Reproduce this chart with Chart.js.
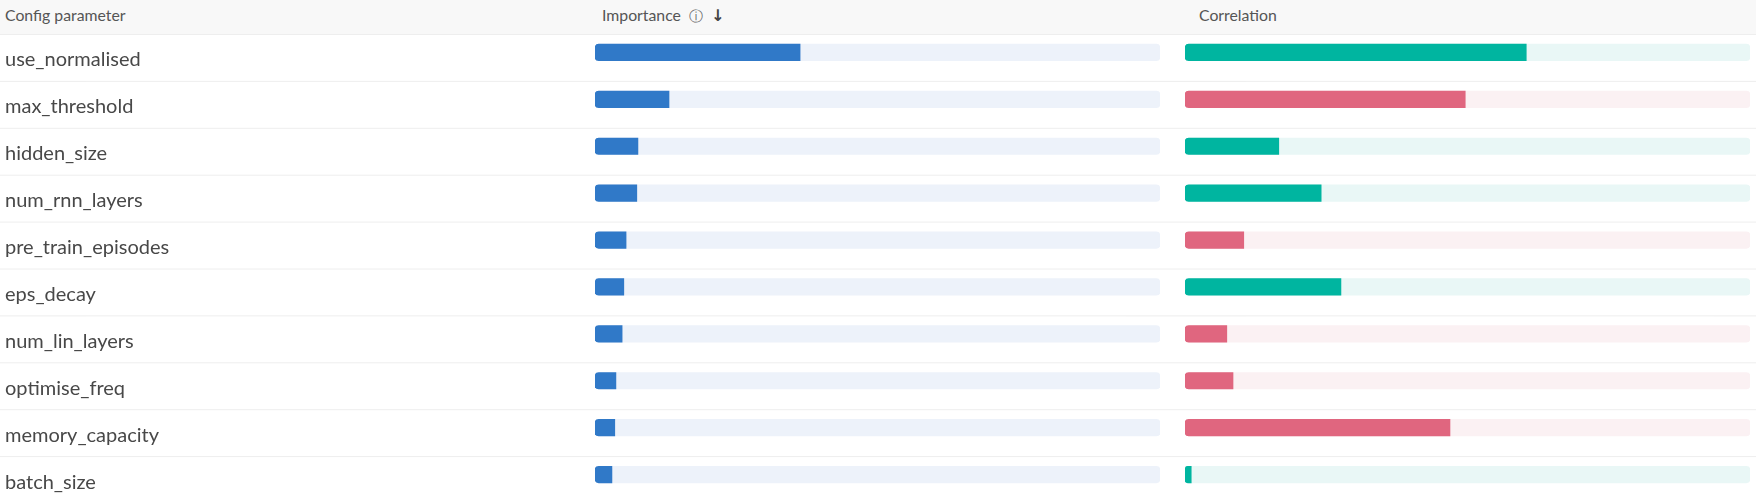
<!DOCTYPE html>
<html>
<head>
<meta charset="utf-8">
<script src="https://cdn.jsdelivr.net/npm/chart.js@4/dist/chart.umd.min.js"></script>
<style>
  html, body { margin: 0; padding: 0; background: #ffffff; }
  body { width: 1756px; height: 500px; overflow: hidden; position: relative; font-family: Lato, "Noto Sans", sans-serif; }
  #header { position: absolute; left: 0; top: 0; width: 1756px; height: 35px; background: #f8f8f8; }
  .h { position: absolute; top: 0; line-height: 30px; font-size: 15.8px; color: #555; white-space: nowrap; }
  .icon { font-family: "DejaVu Sans"; font-size: 14px; color: #666; }
  .arrow { font-family: "DejaVu Sans"; font-size: 16px; color: #444; font-weight: bold; }
  #c1 { position: absolute; left: 0; top: 29px; }
  #c2 { position: absolute; left: 1160px; top: 29px; }
</style>
</head>
<body>
<div id="header">
  <span class="h" style="left:5px">Config parameter</span>
  <span class="h" style="left:602px">Importance<span class="icon" style="margin-left:8px">ⓘ</span><span class="arrow" style="margin-left:8px">↓</span></span>
  <span class="h" style="left:1199px">Correlation</span>
</div>
<canvas id="c1" width="1160" height="469"></canvas>
<canvas id="c2" width="596" height="469"></canvas>
<script>
// ---- data ----
const categories = ['use_normalised', 'max_threshold', 'hidden_size', 'num_rnn_layers', 'pre_train_episodes',
                    'eps_decay', 'num_lin_layers', 'optimise_freq', 'memory_capacity', 'batch_size'];
const importance = [0.363, 0.131, 0.076, 0.074, 0.055, 0.051, 0.048, 0.037, 0.035, 0.030];
const correlation = [0.604, -0.496, 0.166, 0.241, -0.104, 0.276, -0.074, -0.085, -0.469, 0.011];
const scaleMax = 1;

// ---- styles ----
const BLUE = '#3079c8', BLUE_TRACK = '#edf2fa';
const GREEN = '#00b5a0', GREEN_TRACK = '#e9f7f6';
const RED = '#e0667f', RED_TRACK = '#fbf1f3';
const LINE = '#eeeeee';
const ROW_SHIFT = 5.5;
const LABEL_SHIFT = 7.5;

const rowLines = {
  id: 'rowLines',
  beforeDatasetsDraw(chart, args, opts) {
    const y = chart.scales.y, ctx = chart.ctx;
    const n = chart.data.labels.length;
    const band = y.getPixelForValue(1) - y.getPixelForValue(0);
    ctx.save();
    ctx.strokeStyle = opts.color;
    ctx.lineWidth = opts.width;
    for (let i = 0; i <= n; i++) {
      const py = y.getPixelForValue(i) - band / 2 + opts.shift;
      ctx.beginPath(); ctx.moveTo(0, py); ctx.lineTo(chart.width, py); ctx.stroke();
    }
    ctx.restore();
  }
};

const fillRadius = { topLeft: 4, bottomLeft: 4, topRight: 0, bottomRight: 0 };
const trackRadius = 4;

function baseOptions(padding, showLabels) {
  return {
    indexAxis: 'y',
    responsive: false,
    animation: false,
    devicePixelRatio: 1,
    layout: { padding },
    plugins: {
      legend: { display: false },
      tooltip: { enabled: false },
      rowLines: { color: LINE, width: 1, shift: ROW_SHIFT }
    },
    scales: {
      x: { display: false, min: 0, max: scaleMax },
      y: {
        type: 'category',
        display: showLabels,
        offset: true,
        grid: { display: false },
        border: { display: false },
        ticks: {
          crossAlign: 'far',
          labelOffset: LABEL_SHIFT,
          color: '#484848',
          padding: 0,
          font: { family: 'Lato', size: 20 }
        },
        afterFit(scale) {
          if (showLabels) scale.width = 590;
          scale.paddingTop = 0;
          scale.paddingBottom = 0;
        }
      }
    }
  };
}

const track = categories.map(() => scaleMax);

new Chart(document.getElementById('c1'), {
  type: 'bar',
  data: {
    labels: categories,
    datasets: [
      { data: importance, backgroundColor: BLUE, barThickness: 16.5, grouped: false, order: 0,
        borderSkipped: false, borderRadius: fillRadius },
      { data: track, backgroundColor: BLUE_TRACK, barThickness: 16.5, grouped: false, order: 1,
        borderSkipped: false, borderRadius: trackRadius }
    ]
  },
  options: baseOptions({ left: 5, right: 0, top: 0, bottom: 0 }, true),
  plugins: [rowLines]
});

new Chart(document.getElementById('c2'), {
  type: 'bar',
  data: {
    labels: categories,
    datasets: [
      { data: correlation.map(Math.abs), backgroundColor: correlation.map(v => v >= 0 ? GREEN : RED),
        barThickness: 16.5, grouped: false, order: 0, borderSkipped: false, borderRadius: fillRadius },
      { data: track, backgroundColor: correlation.map(v => v >= 0 ? GREEN_TRACK : RED_TRACK),
        barThickness: 16.5, grouped: false, order: 1, borderSkipped: false, borderRadius: trackRadius }
    ]
  },
  options: baseOptions({ left: 25, right: 6, top: 0, bottom: 0 }, false),
  plugins: [rowLines]
});
</script>
</body>
</html>
